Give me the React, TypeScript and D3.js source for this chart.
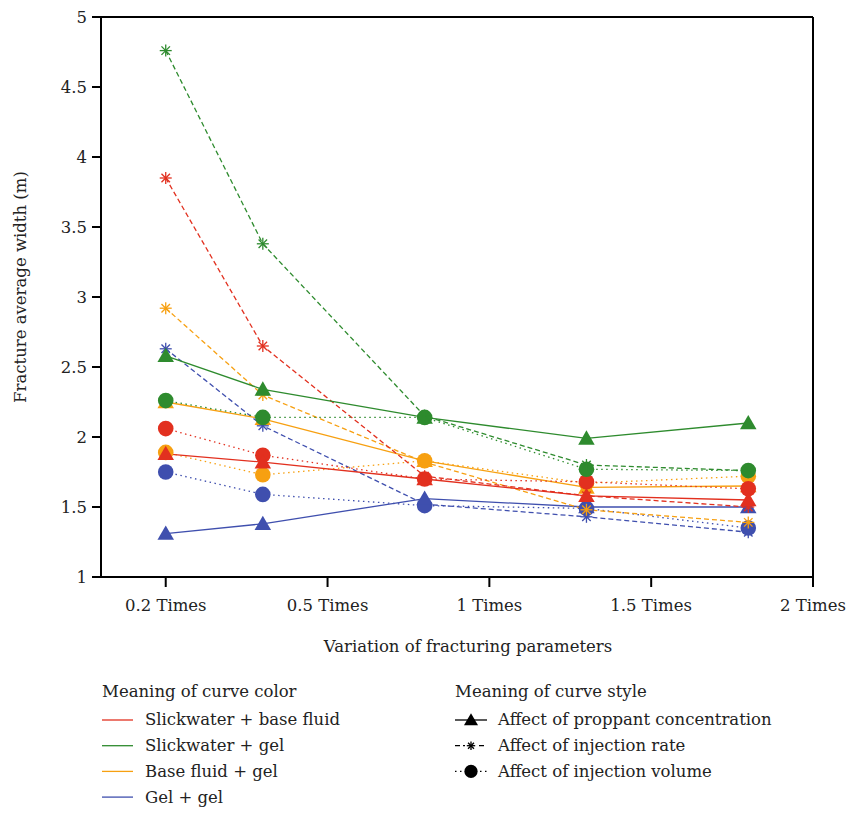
import React from "react";
import * as d3 from "d3";

const tickLabels = ["0.2 Times", "0.5 Times", "1 Times", "1.5 Times", "2 Times"];
const tickPositions = [0, 1, 2, 3, 4];
const pointPositions = [0, 0.6, 1.6, 2.6, 3.6];
const yTicks = [1, 1.5, 2, 2.5, 3, 3.5, 4, 4.5, 5];

const fluidNames = ["Slickwater + base fluid", "Slickwater + gel", "Base fluid + gel", "Gel + gel"];
const fluidColors = ["#e2301f", "#2e8b2e", "#f7a011", "#3f4fae"];
const styleNames = ["Affect of proppant concentration", "Affect of injection rate", "Affect of injection volume"];

// proppant concentration (solid, triangle)
const redProppant = [1.88, 1.82, 1.70, 1.58, 1.55];
const greenProppant = [2.58, 2.34, 2.14, 1.99, 2.10];
const orangeProppant = [2.25, 2.13, 1.83, 1.64, 1.65];
const blueProppant = [1.31, 1.38, 1.56, 1.50, 1.50];
// injection rate (dashed, asterisk)
const redRate = [3.85, 2.65, 1.72, 1.58, 1.50];
const greenRate = [4.76, 3.38, 2.15, 1.80, 1.76];
const orangeRate = [2.92, 2.30, 1.82, 1.48, 1.39];
const blueRate = [2.63, 2.08, 1.52, 1.43, 1.32];
// injection volume (dotted, circle)
const redVolume = [2.06, 1.87, 1.70, 1.68, 1.63];
const greenVolume = [2.26, 2.14, 2.14, 1.77, 1.76];
const orangeVolume = [1.89, 1.73, 1.83, 1.67, 1.72];
const blueVolume = [1.75, 1.59, 1.51, 1.49, 1.35];

const FONT = "DejaVu Serif";
const FS = 16.5;

type Series = { color: string; style: number; values: number[] };

const series: Series[] = [
  { color: fluidColors[3], style: 1, values: blueRate },
  { color: fluidColors[3], style: 2, values: blueVolume },
  { color: fluidColors[3], style: 0, values: blueProppant },
  { color: fluidColors[2], style: 2, values: orangeVolume },
  { color: fluidColors[2], style: 1, values: orangeRate },
  { color: fluidColors[2], style: 0, values: orangeProppant },
  { color: fluidColors[0], style: 2, values: redVolume },
  { color: fluidColors[0], style: 1, values: redRate },
  { color: fluidColors[0], style: 0, values: redProppant },
  { color: fluidColors[1], style: 0, values: greenProppant },
  { color: fluidColors[1], style: 2, values: greenVolume },
  { color: fluidColors[1], style: 1, values: greenRate },
];

const dashes = [undefined, "5,3", "1.5,3.5"];

function Marker({ style, x, y, color, scale = 1 }: { style: number; x: number; y: number; color: string; scale?: number }) {
  if (style === 0) {
    const p = d3.symbol().type(d3.symbolTriangle).size(118 * scale * scale)();
    return <path d={p || ""} transform={`translate(${x},${y + 1.5 * scale})`} fill={color} />;
  }
  if (style === 2) {
    return <circle cx={x} cy={y} r={7.8 * scale} fill={color} />;
  }
  const r = 6 * scale;
  const lines = [0, 45, 90, 135].map((a) => {
    const rad = (a * Math.PI) / 180;
    return (
      <line
        key={a}
        x1={x - r * Math.cos(rad)}
        y1={y - r * Math.sin(rad)}
        x2={x + r * Math.cos(rad)}
        y2={y + r * Math.sin(rad)}
        stroke={color}
        strokeWidth={1.3}
      />
    );
  });
  return <g>{lines}</g>;
}

export default function App() {
  const x = d3.scaleLinear().domain([-0.4, 4]).range([101, 813]);
  const y = d3.scaleLinear().domain([1, 5]).range([577, 17]);
  const line = d3
    .line<number>()
    .x((_, i) => x(pointPositions[i]))
    .y((d) => y(d));

  return (
    <svg
      width={853}
      height={813}
      style={{ display: "block", position: "absolute", left: 0, top: 0 }}
    >
      <g fontFamily={FONT}>
        {/* frame */}
        <g stroke="#000" strokeWidth={2} fill="none">
          <line x1={x(-0.4)} x2={x(4)} y1={y(5)} y2={y(5)} />
          <line x1={x(-0.4)} x2={x(4)} y1={y(1)} y2={y(1)} />
          <line x1={x(-0.4)} x2={x(-0.4)} y1={y(5)} y2={y(1)} />
          <line x1={x(4)} x2={x(4)} y1={y(5)} y2={y(1)} />
        </g>
        {yTicks.map((t) => (
          <g key={t}>
            <line x1={x(-0.4) - 9} x2={x(-0.4)} y1={y(t)} y2={y(t)} stroke="#000" strokeWidth={2} />
            <text x={x(-0.4) - 14} y={y(t)} dy="0.35em" textAnchor="end" fontSize={FS} fill="#222">
              {t}
            </text>
          </g>
        ))}
        {tickPositions.map((t, i) => (
          <g key={t}>
            <line x1={x(t)} x2={x(t)} y1={y(1)} y2={y(1) + 10} stroke="#000" strokeWidth={2} />
            <text x={x(t)} y={y(1) + 34} textAnchor="middle" fontSize={FS} fill="#222">
              {tickLabels[i]}
            </text>
          </g>
        ))}
        <text transform={`translate(26,287) rotate(-90)`} textAnchor="middle" fontSize={FS} fill="#222">
          Fracture average width (m)
        </text>
        <text x={468} y={652} textAnchor="middle" fontSize={FS} fill="#222">
          Variation of fracturing parameters
        </text>

        {/* lines */}
        {series.map((s, i) => (
          <path
            key={"l" + i}
            d={line(s.values) || ""}
            fill="none"
            stroke={s.color}
            strokeWidth={1.3}
            strokeDasharray={dashes[s.style]}
          />
        ))}
        {/* markers */}
        {series.map((s, i) => (
          <g key={"m" + i}>
            {s.values.map((v, j) => (
              <Marker key={j} style={s.style} x={x(pointPositions[j])} y={y(v)} color={s.color} />
            ))}
          </g>
        ))}

        {/* color legend */}
        <text x={102} y={697} fontSize={FS} fill="#222">
          Meaning of curve color
        </text>
        {fluidNames.map((n, i) => (
          <g key={n}>
            <line x1={102} x2={133} y1={720 + i * 25.7} y2={720 + i * 25.7} stroke={fluidColors[i]} strokeWidth={1.3} />
            <text x={145} y={720 + i * 25.7} dy="0.33em" fontSize={FS} fill="#222">
              {n}
            </text>
          </g>
        ))}
        {/* style legend */}
        <text x={455} y={697} fontSize={FS} fill="#222">
          Meaning of curve style
        </text>
        {styleNames.map((n, i) => (
          <g key={n}>
            <line
              x1={455}
              x2={487}
              y1={720 + i * 25.7}
              y2={720 + i * 25.7}
              stroke="#000"
              strokeWidth={1.3}
              strokeDasharray={dashes[i]}
            />
            <rect x={465} y={712 + i * 25.7} width={12} height={16} fill="#fff" opacity={i === 0 ? 0 : 1} />
            <Marker style={i} x={471} y={720 + i * 25.7} color="#000" scale={i === 1 ? 0.7 : 0.85} />
            <text x={498} y={720 + i * 25.7} dy="0.33em" fontSize={FS} fill="#222">
              {n}
            </text>
          </g>
        ))}
      </g>
    </svg>
  );
}
